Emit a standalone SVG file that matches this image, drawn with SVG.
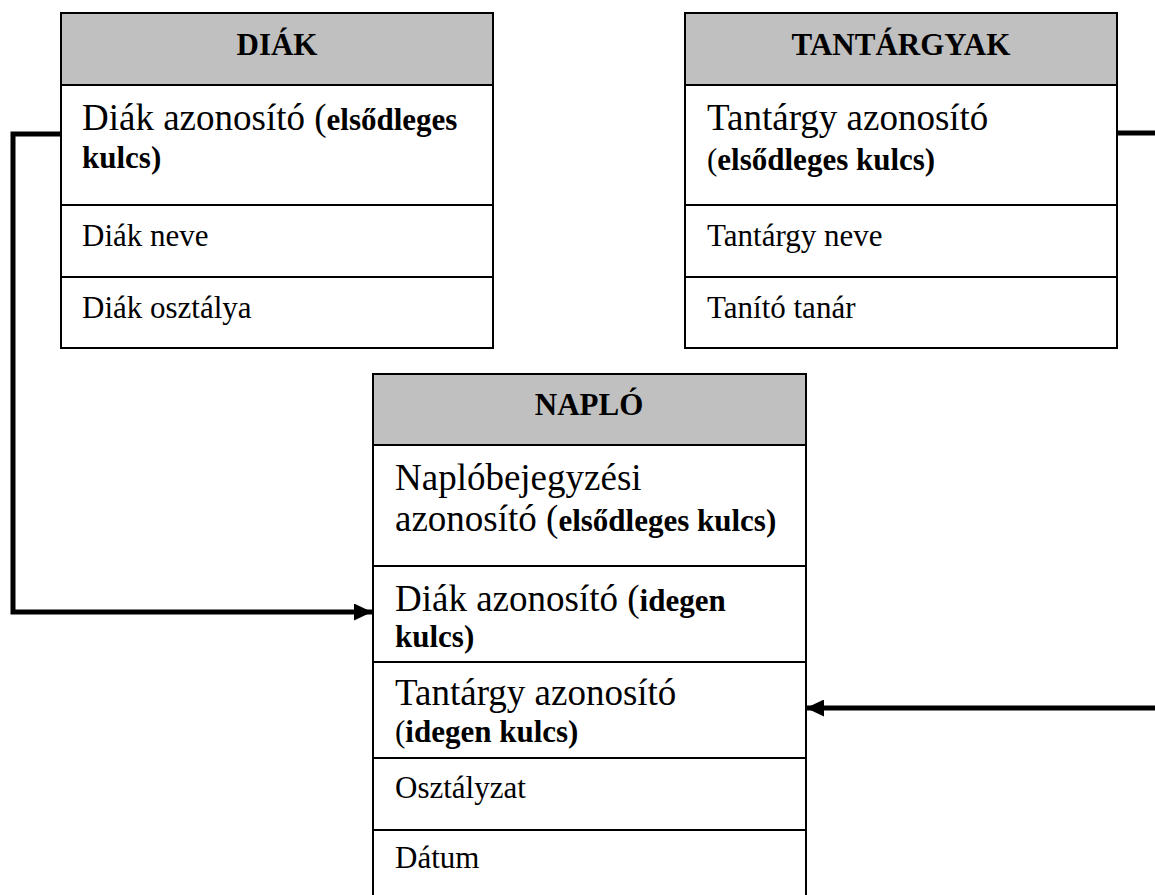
<svg xmlns="http://www.w3.org/2000/svg" width="1155" height="895" viewBox="0 0 1155 895">
<style>
.box{fill:#ffffff;stroke:#000000;stroke-width:2}
.hdr{fill:#c0c0c0;stroke:#000000;stroke-width:2}
.sep{stroke:#000000;stroke-width:2}
.t{font-family:"Liberation Serif","Times New Roman",serif;fill:#000000}
.h{font-size:31px;font-weight:bold;text-anchor:middle}
.big{font-size:37px}
.sm{font-size:31px}
.b{font-weight:bold;font-size:31px}
.conn{fill:none;stroke:#000000;stroke-width:5}
</style>
<defs>
<marker id="arr" viewBox="0 0 18 17" refX="18" refY="8.5" markerWidth="18" markerHeight="17" markerUnits="userSpaceOnUse" orient="auto">
<path d="M0,0 L18,8.5 L0,17 Z" fill="#000000"/>
</marker>
</defs>
<rect width="1155" height="895" fill="#ffffff"/>
<g id="connectors">
<path class="conn" d="M61,134 H13 V612 H372" marker-end="url(#arr)"/>
<path class="conn" d="M1117,133 H1162 V708 H806" marker-end="url(#arr)"/>
</g>
<g id="diak">
<rect class="box" x="61" y="13" width="432" height="335"/>
<rect class="hdr" x="61" y="13" width="432" height="72"/>
<line class="sep" x1="61" y1="205" x2="493" y2="205"/>
<line class="sep" x1="61" y1="277" x2="493" y2="277"/>
<text class="t h" x="277" y="55">DIÁK</text>
<text class="t big" x="82" y="130">Diák azonosító (<tspan class="b">elsődleges</tspan></text>
<text class="t b" x="82" y="168">kulcs)</text>
<text class="t sm" x="82" y="246">Diák neve</text>
<text class="t sm" x="82" y="318">Diák osztálya</text>
</g>
<g id="tantargyak">
<rect class="box" x="685" y="13" width="432" height="335"/>
<rect class="hdr" x="685" y="13" width="432" height="72"/>
<line class="sep" x1="685" y1="205" x2="1117" y2="205"/>
<line class="sep" x1="685" y1="277" x2="1117" y2="277"/>
<text class="t h" x="901" y="55">TANTÁRGYAK</text>
<text class="t big" x="707" y="130">Tantárgy azonosító</text>
<text class="t sm" x="707" y="170">(<tspan class="b">elsődleges kulcs)</tspan></text>
<text class="t sm" x="707" y="246">Tantárgy neve</text>
<text class="t sm" x="707" y="318">Tanító tanár</text>
</g>
<g id="naplo">
<rect class="box" x="373" y="374" width="433" height="530"/>
<rect class="hdr" x="373" y="374" width="433" height="71"/>
<line class="sep" x1="373" y1="566" x2="806" y2="566"/>
<line class="sep" x1="373" y1="662" x2="806" y2="662"/>
<line class="sep" x1="373" y1="758" x2="806" y2="758"/>
<line class="sep" x1="373" y1="830" x2="806" y2="830"/>
<text class="t h" x="589" y="415">NAPLÓ</text>
<text class="t big" x="395" y="490">Naplóbejegyzési</text>
<text class="t big" x="395" y="531">azonosító (<tspan class="b">elsődleges kulcs)</tspan></text>
<text class="t big" x="395" y="611">Diák azonosító (<tspan class="b">idegen</tspan></text>
<text class="t b" x="395" y="647">kulcs)</text>
<text class="t big" x="395" y="705">Tantárgy azonosító</text>
<text class="t sm" x="395" y="742">(<tspan class="b">idegen kulcs)</tspan></text>
<text class="t sm" x="395" y="798">Osztályzat</text>
<text class="t sm" x="395" y="868">Dátum</text>
</g>
</svg>
